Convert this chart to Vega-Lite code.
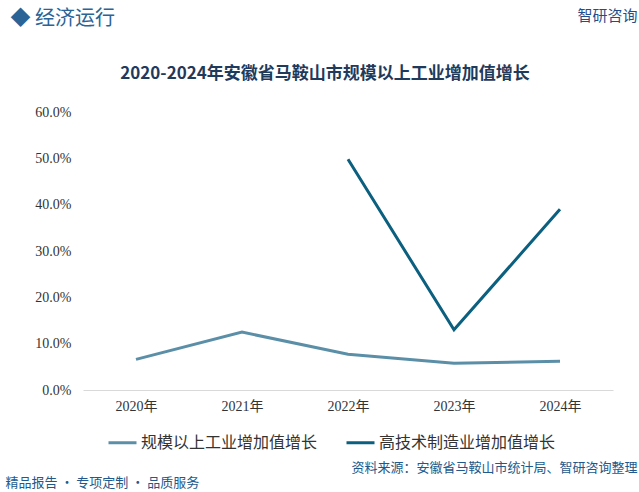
{
  "$schema": "https://vega.github.io/schema/vega-lite/v6.json",
  "autosize": "none",
  "width": 530,
  "height": 278,
  "padding": {"left": 83, "top": 112, "right": 26, "bottom": 102},
  "background": "white",
  "config": {"view": {"stroke": null}, "font": "Noto Sans CJK SC"},
  "title": {
    "text": "2020-2024年安徽省马鞍山市规模以上工业增加值增长",
    "anchor": "middle",
    "dx": -23,
    "offset": -75,
    "fontSize": 17,
    "fontWeight": "bold",
    "color": "#1f3a5a",
    "font": "Noto Sans CJK SC"
  },
  "data": {
    "values": [
      {"year": "2020年", "series": "规模以上工业增加值增长", "value": 6.6},
      {"year": "2021年", "series": "规模以上工业增加值增长", "value": 12.5},
      {"year": "2022年", "series": "规模以上工业增加值增长", "value": 7.7},
      {"year": "2023年", "series": "规模以上工业增加值增长", "value": 5.8},
      {"year": "2024年", "series": "规模以上工业增加值增长", "value": 6.2},
      {"year": "2022年", "series": "高技术制造业增加值增长", "value": 49.8},
      {"year": "2023年", "series": "高技术制造业增加值增长", "value": 13.0},
      {"year": "2024年", "series": "高技术制造业增加值增长", "value": 39.0}
    ]
  },
  "layer": [
    {
      "mark": {"type": "line", "strokeWidth": 3},
      "encoding": {
        "x": {
          "field": "year",
          "type": "ordinal",
          "sort": null,
          "axis": {
            "orient": "bottom",
            "labelAngle": 0,
            "ticks": false,
            "domainColor": "#d9d9d9",
            "domainWidth": 1,
            "labelFont": "Liberation Serif, Noto Sans CJK SC",
            "labelFontSize": 14,
            "labelColor": "#333333",
            "labelPadding": 9,
            "title": "资料来源：安徽省马鞍山市统计局、智研咨询整理",
            "titleFont": "Noto Sans CJK SC",
            "titleFontSize": 13,
            "titleFontWeight": "normal",
            "titleColor": "#22598a",
            "titleAlign": "right",
            "titleBaseline": "middle",
            "titleX": 554,
            "titleY": 77
          }
        },
        "y": {
          "field": "value",
          "type": "quantitative",
          "scale": {"domain": [0, 60]},
          "axis": {
            "orient": "left",
            "values": [0, 10, 20, 30, 40, 50, 60],
            "labelExpr": "format(datum.value, '.1f') + '%'",
            "grid": false,
            "domain": false,
            "ticks": false,
            "labelFont": "Liberation Serif",
            "labelFontSize": 14,
            "labelColor": "#333333",
            "labelPadding": 12,
            "title": "◆ 经济运行",
            "titleAngle": 0,
            "titleFont": "Noto Sans CJK SC",
            "titleFontSize": 20,
            "titleFontWeight": "normal",
            "titleColor": "#2a6496",
            "titleAlign": "left",
            "titleBaseline": "middle",
            "titleX": -73,
            "titleY": -94
          }
        },
        "color": {
          "field": "series",
          "type": "nominal",
          "scale": {
            "domain": ["规模以上工业增加值增长", "高技术制造业增加值增长"],
            "range": ["#5b8fa8", "#0b5f7f"]
          },
          "legend": {
            "orient": "none",
            "direction": "horizontal",
            "legendX": 24,
            "legendY": 315,
            "title": null,
            "symbolType": "stroke",
            "symbolSize": 784,
            "symbolStrokeWidth": 3,
            "labelFont": "Noto Sans CJK SC",
            "labelFontSize": 16,
            "labelColor": "#333333",
            "labelOffset": 3,
            "columnPadding": 22,
            "labelLimit": 300
          }
        }
      }
    },
    {
      "mark": {"type": "text", "text": ""},
      "encoding": {
        "x": {
          "field": "year",
          "type": "ordinal",
          "sort": null,
          "axis": {
            "orient": "top",
            "labels": false,
            "ticks": false,
            "domain": false,
            "title": "智研咨询",
            "titleFont": "Noto Sans CJK SC",
            "titleFontSize": 15,
            "titleFontWeight": "normal",
            "titleColor": "#1f4e8a",
            "titleAlign": "center",
            "titleBaseline": "middle",
            "titleX": 524,
            "titleY": -97
          }
        },
        "y": {
          "field": "value",
          "type": "quantitative",
          "scale": {"domain": [0, 60]},
          "axis": {
            "orient": "right",
            "labels": false,
            "ticks": false,
            "domain": false,
            "grid": false,
            "title": "精品报告 · 专项定制 · 品质服务",
            "titleAngle": 0,
            "titleFont": "Noto Sans CJK SC",
            "titleFontSize": 13,
            "titleFontWeight": "normal",
            "titleColor": "#22598a",
            "titleAlign": "left",
            "titleBaseline": "middle",
            "titleX": -608,
            "titleY": 370
          }
        }
      }
    }
  ],
  "resolve": {"axis": {"x": "independent", "y": "independent"}}
}
